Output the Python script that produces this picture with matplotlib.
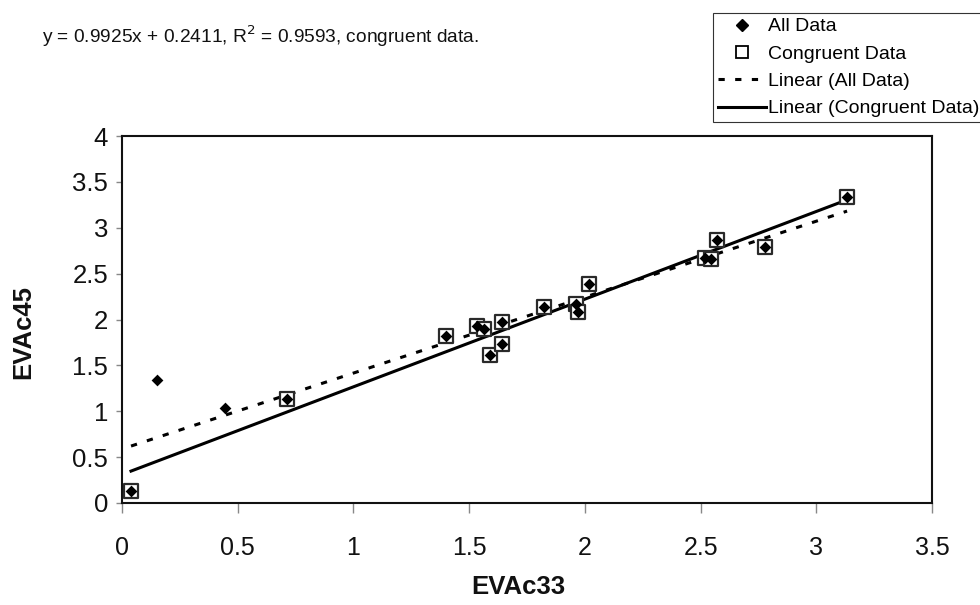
import numpy as np
import matplotlib
matplotlib.use("Agg")
import matplotlib.pyplot as plt
from matplotlib.lines import Line2D

plt.rcParams['font.family'] = ['Liberation Sans', 'DejaVu Sans']
plt.rcParams['lines.scale_dashes'] = False

# Congruent data (EVAc33, EVAc45)
cong_x = [0.039, 0.714, 1.402, 1.532, 1.564, 1.590, 1.643, 1.644, 1.823, 1.961,
          1.971, 2.020, 2.520, 2.545, 2.572, 2.780, 3.133]
cong_y = [0.134, 1.137, 1.820, 1.930, 1.900, 1.613, 1.733, 1.973, 2.140, 2.170,
          2.080, 2.387, 2.667, 2.660, 2.866, 2.787, 3.338]
# Non-congruent extra points (only in All Data)
extra_x = [0.151, 0.445]
extra_y = [1.340, 1.030]

all_x = cong_x + extra_x
all_y = cong_y + extra_y

x_ticks = [0, 0.5, 1, 1.5, 2, 2.5, 3, 3.5]
y_ticks = [0, 0.5, 1, 1.5, 2, 2.5, 3, 3.5, 4]

fig = plt.figure(figsize=(9.8, 6.05), dpi=100)
ax = fig.add_axes([122/980, 1-503/605, (932-122)/980, (503-136)/605])

# trendlines
ca = np.array(cong_x); cb = np.array(cong_y)
aa = np.array(all_x); ab = np.array(all_y)
pc = np.polyfit(ca, cb, 1)
pa = np.polyfit(aa, ab, 1)
xs_c = np.array([ca.min(), ca.max()])
xs_a = np.array([aa.min(), aa.max()])

ax.plot(xs_a, np.polyval(pa, xs_a), color='black', lw=2.2, dashes=(4.5, 7.5), zorder=2)
ax.plot(xs_c, np.polyval(pc, xs_c), color='black', lw=2.2, zorder=2)

ax.scatter(cong_x, cong_y, marker='s', s=100, facecolors='white', edgecolors='#2a2a2a',
           linewidths=1.6, zorder=3)
ax.scatter(all_x, all_y, marker='D', s=36, color='black', linewidths=0, zorder=4)

ax.set_xlim(0, 3.5)
ax.set_ylim(0, 4)
ax.set_xticks(x_ticks)
ax.set_yticks(y_ticks)
ax.set_xticklabels([f"{t:g}" for t in x_ticks], fontsize=18)
ax.set_yticklabels([f"{t:g}" for t in y_ticks], fontsize=18.5)
ax.tick_params(axis='x', length=7, width=1, color='#888888', pad=17, labelcolor='#111111')
ax.tick_params(axis='y', length=4, width=1, color='#888888', pad=6, labelcolor='#111111')
for sp in ax.spines.values():
    sp.set_color('#111111')
    sp.set_linewidth(1.5)

fig.text(518/980, 1-587/605, "EVAc33", fontsize=18.5, fontweight='bold',
         ha='center', va='center', color='#111111')
fig.text(23/980, 1-332/605, "EVAc45", fontsize=18.5, fontweight='bold',
         ha='center', va='center', rotation=90, color='#111111')

fig.text(42/980, 1-36/605, "y = 0.9925x + 0.2411, R$^2$ = 0.9593, congruent data.",
         fontsize=13.75, ha='left', va='center', color='#111111')

handles = [
    Line2D([], [], ls='none', marker='D', markersize=6, color='black'),
    Line2D([], [], ls='none', marker='s', markersize=9, markerfacecolor='white',
           markeredgecolor='black', markeredgewidth=1.3),
    Line2D([], [], color='black', lw=2.2, dashes=(4.5, 7.5)),
    Line2D([], [], color='black', lw=2.2),
]
labels = ["All Data", "Congruent Data", "Linear (All Data)", "Linear (Congruent Data)"]
leg = fig.legend(handles, labels, loc='upper left', bbox_to_anchor=(713/980, 1-13/605),
                 fontsize=14, frameon=True, fancybox=False, edgecolor='#333333',
                 handlelength=2.45, handletextpad=0.15, borderpad=0.25, labelspacing=0.5,
                 borderaxespad=0, framealpha=1)
leg.get_frame().set_linewidth(0.8)

fig.savefig("out.png", dpi=100)
